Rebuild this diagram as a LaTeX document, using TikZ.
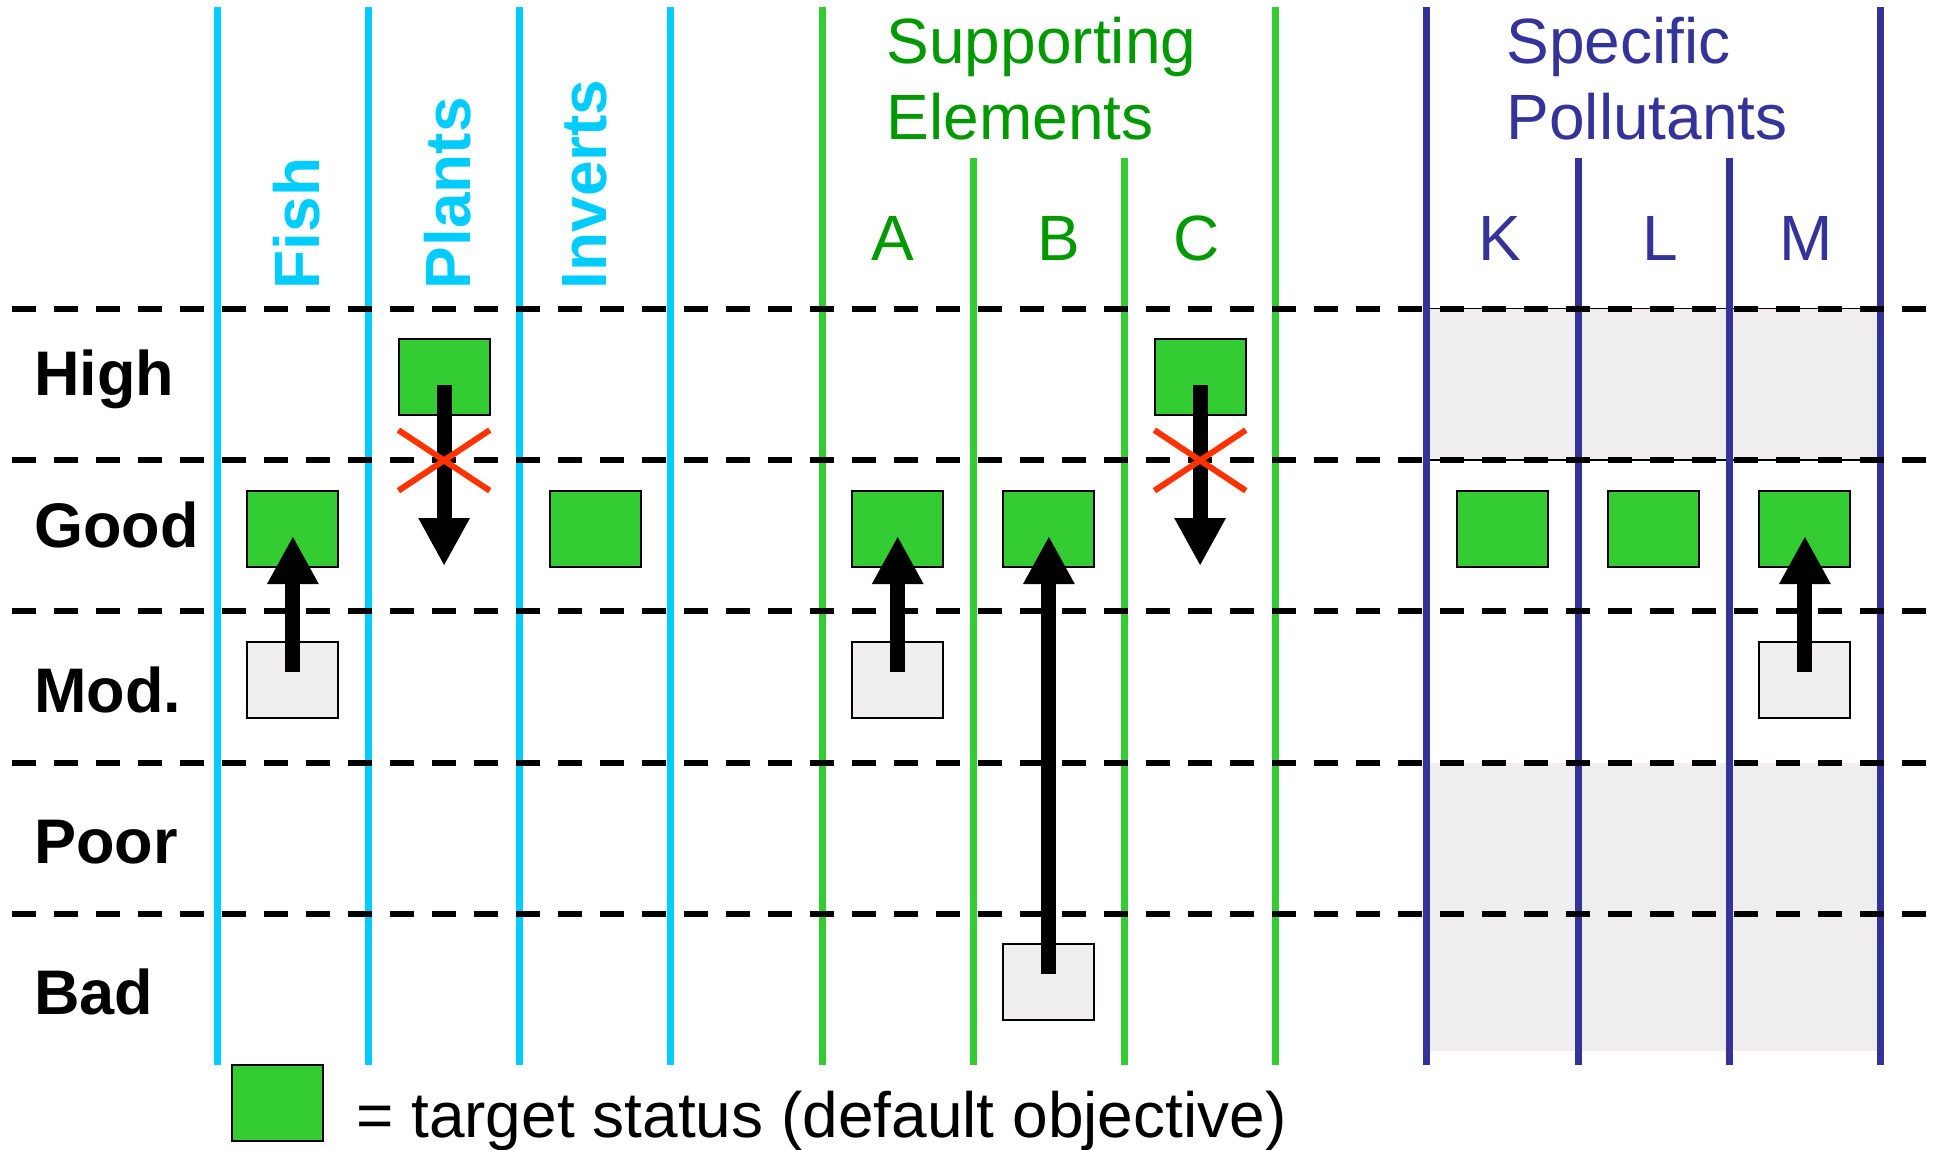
\documentclass[tikz,border=0pt]{standalone}
\usepackage{fontspec}
\setmainfont{Liberation Sans}
\usetikzlibrary{arrows.meta,calc}
\definecolor{cyanline}{HTML}{00CCFF}
\definecolor{greenline}{HTML}{33CC33}
\definecolor{greentext}{HTML}{009900}
\definecolor{blueline}{HTML}{333399}
\definecolor{redx}{HTML}{FF3300}
\definecolor{boxgreen}{HTML}{33CC33}
\definecolor{boxgray}{HTML}{F0EEEE}
\definecolor{shadegray}{HTML}{EFEDED}
\begin{document}
\begin{tikzpicture}[x=1pt,y=-1pt,
  vline/.style={line width=7pt},
  gridline/.style={line width=6pt, dash pattern=on 24pt off 18pt},
  target/.style={draw=black, line width=2pt, fill=boxgreen, minimum width=91pt, minimum height=76pt, inner sep=0pt},
  current/.style={target, fill=boxgray},
  bigarrow/.style={line width=15pt, -{Triangle[width=48pt,length=48pt]}},
  nogo/.style={draw=redx, line width=6pt},
  rowlabel/.style={anchor=base west, inner sep=0pt, font=\fontsize{63}{75}\selectfont\bfseries},
  colhead/.style={anchor=base west, inner sep=0pt, rotate=90, text=cyanline, font=\fontsize{64}{76}\selectfont\bfseries},
  grouphead/.style={anchor=base west, inner sep=0pt, font=\fontsize{64}{76}\selectfont},
  subhead/.style={anchor=base, inner sep=0pt, font=\fontsize{64}{76}\selectfont}
]
\useasboundingbox (0,0) rectangle (1936,1149);
\fill[white] (0,0) rectangle (1936,1149);

% shaded regions
\fill[shadegray] (1426.7,308.7) rectangle (1880.6,460);
\draw[line width=1.5pt] (1426.7,308.7) rectangle (1880.6,460);
\fill[shadegray] (1426.7,762.6) rectangle (1880.6,1050.7);

% vertical column lines
\foreach \i in {0,1,2,3}{
  \draw[vline, cyanline] ({217.3+151.2*\i},7) -- ({217.3+151.2*\i},1065);
}
\foreach \i in {4,7}{
  \draw[vline, greenline] ({217.3+151.2*\i},7) -- ({217.3+151.2*\i},1065);
}
\foreach \i in {5,6}{
  \draw[vline, greenline] ({217.3+151.2*\i},158.3) -- ({217.3+151.2*\i},1065);
}
\foreach \i in {8,11}{
  \draw[vline, blueline] ({217.3+151.2*\i},7) -- ({217.3+151.2*\i},1065);
}
\foreach \i in {9,10}{
  \draw[vline, blueline] ({217.3+151.2*\i},158.3) -- ({217.3+151.2*\i},1065);
}

% dashed row lines
\foreach \y in {308.7,460,611.3,762.6,913.9}{
  \draw[gridline] (12,\y) -- (1936,\y);
}

% row labels
\node[rowlabel] (lHigh) at (34,395.5) {High};
\node[rowlabel] (lGood) at (34,547.5) {Good};
\node[rowlabel] (lMod)  at (34,712) {Mod.};
\node[rowlabel] (lPoor) at (34,863) {Poor};
\node[rowlabel] (lBad)  at (34,1014) {Bad};

% column headers
\node[colhead] (hFish)    at (319.3,289.5) {Fish};
\node[colhead] (hPlants)  at (470,289.5) {Plants};
\node[colhead] (hInverts) at (606.7,289.5) {Inverts};

\node[grouphead, text=greentext] (hSup1) at (886.5,63.3) {Supporting};
\node[grouphead, text=greentext] (hSup2) at (886.5,139.3) {Elements};
\node[grouphead, text=blueline] (hSp1) at (1506.5,63.3) {Specific};
\node[grouphead, text=blueline] (hSp2) at (1506.5,139.3) {Pollutants};

\node[subhead, text=greentext] (hA) at (893,260) {A};
\node[subhead, text=greentext] (hB) at (1059,260) {B};
\node[subhead, text=greentext] (hC) at (1197,260) {C};
\node[subhead, text=blueline] (hK) at (1500,260) {K};
\node[subhead, text=blueline] (hL) at (1660,260) {L};
\node[subhead, text=blueline] (hM) at (1806,260) {M};

% status boxes
\node[target]  (plantsHigh) at (444.1,377.3) {};
\node[target]  (fishGood)   at (292.9,528.5) {};
\node[current] (fishMod)    at (292.9,679.5) {};
\node[target]  (invGood)    at (595.3,528.5) {};
\node[target]  (aGood)      at (897.7,528.5) {};
\node[current] (aMod)       at (897.7,679.5) {};
\node[target]  (bGood)      at (1048.9,528.5) {};
\node[current] (bBad)       at (1048.9,982) {};
\node[target]  (cHigh)      at (1200.1,377.3) {};
\node[target]  (kGood)      at (1502.5,528.5) {};
\node[target]  (lGoodBox)   at (1653.7,528.5) {};
\node[target]  (mGood)      at (1804.9,528.5) {};
\node[current] (mMod)       at (1804.9,679.5) {};

% free ends of the downward arrows
\coordinate (plantsDown) at (444.1,566);
\coordinate (cDown) at (1200.1,566);

% arrows
\draw[bigarrow] ($(fishMod.center)+(0,-8)$) -- ($(fishGood.center)+(0,7.5)$);
\draw[bigarrow] ($(aMod.center)+(0,-8)$) -- ($(aGood.center)+(0,7.5)$);
\draw[bigarrow] ($(bBad.center)+(0,-8)$) -- ($(bGood.center)+(0,7.5)$);
\draw[bigarrow] ($(mMod.center)+(0,-8)$) -- ($(mGood.center)+(0,7.5)$);
\draw[bigarrow] ($(plantsHigh.center)+(0,8)$) -- (plantsDown);
\draw[bigarrow] ($(cHigh.center)+(0,8)$) -- (cDown);

% red crosses
\draw[nogo] ($(plantsHigh.center)+(-45.7,52.8)$) -- ($(plantsHigh.center)+(45.7,113.4)$)
            ($(plantsHigh.center)+(-45.7,113.4)$) -- ($(plantsHigh.center)+(45.7,52.8)$);
\draw[nogo] ($(cHigh.center)+(-45.7,52.8)$) -- ($(cHigh.center)+(45.7,113.4)$)
            ($(cHigh.center)+(-45.7,113.4)$) -- ($(cHigh.center)+(45.7,52.8)$);

% legend
\node[target] (legendBox) at (277.2,1102.9) {};
\node[grouphead] (legendText) at (356,1137.3) {= target status (default objective)};
\end{tikzpicture}
\end{document}
